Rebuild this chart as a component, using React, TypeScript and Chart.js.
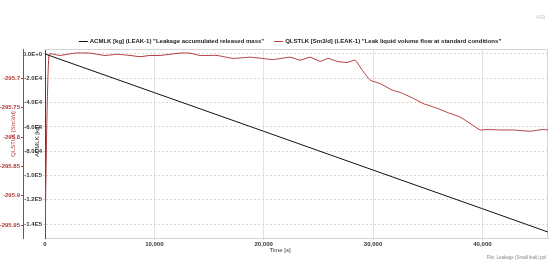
import React, { useEffect, useRef } from "react";
import { Chart, registerables } from "chart.js";

Chart.register(...registerables);

// Time [s] for accumulated mass (black)
const massTimes = [0, 10000, 20000, 30000, 40000, 46000];
const massValues = [0, -31800, -63600, -95500, -127300, -146500];

// Time [s] and values for liquid volume flow (red)
const flowTimes = [0, 366, 1372, 2745, 4117, 5490, 6588, 7777, 8692, 9607, 10522, 11437, 12352, 13267, 14182, 15738, 17202, 18757, 19855, 20862, 22417, 23332, 24247, 25162, 25894, 26718, 27633, 28365, 29005, 29737, 30652, 31750, 32482, 33672, 34587, 35868, 36783, 37972, 38887, 39802, 40443, 41632, 42822, 44377, 45567, 46024];
const flowValues = [-295.972, -295.659, -295.661, -295.657, -295.657, -295.661, -295.659, -295.661, -295.663, -295.661, -295.661, -295.659, -295.657, -295.657, -295.661, -295.661, -295.666, -295.664, -295.666, -295.668, -295.664, -295.669, -295.664, -295.671, -295.666, -295.671, -295.673, -295.669, -295.686, -295.703, -295.709, -295.72, -295.724, -295.734, -295.743, -295.751, -295.758, -295.766, -295.777, -295.788, -295.787, -295.788, -295.788, -295.79, -295.787, -295.788];

const xTicks = [0, 10000, 20000, 30000, 40000];
const massTicks = [0, -20000, -40000, -60000, -80000, -100000, -120000, -140000];
const massTickLabels = ["0.0E+0", "-2.0E4", "-4.0E4", "-6.0E4", "-8.0E4", "-1.0E5", "-1.2E5", "-1.4E5"];
const flowTicks = [-295.7, -295.75, -295.8, -295.85, -295.9, -295.95];
const flowTickLabels = ["-295.7", "-295.75", "-295.8", "-295.85", "-295.9", "-295.95"];

const legendText1 = "ACMLK [kg] (LEAK-1) \"Leakage accumulated released mass\"";
const legendText2 = "QLSTLK [Sm3/d] (LEAK-1) \"Leak liquid volume flow at standard conditions\"";
const flowTitle = "QLSTLK [Sm3/d]";
const massTitle = "ACMLK [kg]";
const xTitle = "Time [s]";
const fileText = "File: Leakage (Small leak).ppl";
const pageText = "4/19";

const RED = "#b23a3a";
const FONT = "'Liberation Sans', Arial, sans-serif";

export default function App() {
  const ref = useRef<HTMLCanvasElement | null>(null);

  useEffect(() => {
    if (!ref.current) return;
    const textPlugin = {
      id: "texts",
      beforeDatasetsDraw(chart: any) {
        const { ctx, chartArea } = chart;
        ctx.save();
        ctx.strokeStyle = "#d4d4d4";
        ctx.lineWidth = 1;
        ctx.beginPath();
        ctx.moveTo(chartArea.left, chartArea.top + 0.5);
        ctx.lineTo(chartArea.right - 0.5, chartArea.top + 0.5);
        ctx.lineTo(chartArea.right - 0.5, chartArea.bottom);
        ctx.stroke();
        ctx.restore();
      },
      afterDraw(chart: any) {
        const { ctx } = chart;
        ctx.save();
        // legend
        ctx.font = `bold 6px ${FONT}`;
        ctx.textBaseline = "middle";
        ctx.textAlign = "left";
        const gap = 10;
        const sw = 9;
        const w1 = ctx.measureText(legendText1).width;
        const w2 = ctx.measureText(legendText2).width;
        const total = sw + 2 + w1 + gap + sw + 2 + w2;
        let x = 290 - total / 2;
        const y = 41;
        ctx.strokeStyle = "#111";
        ctx.lineWidth = 1;
        ctx.beginPath(); ctx.moveTo(x, y + 0.5); ctx.lineTo(x + sw, y + 0.5); ctx.stroke();
        x += sw + 2;
        ctx.fillStyle = "#222";
        ctx.fillText(legendText1, x, y);
        x += w1 + gap;
        ctx.strokeStyle = RED;
        ctx.beginPath(); ctx.moveTo(x, y + 0.5); ctx.lineTo(x + sw, y + 0.5); ctx.stroke();
        x += sw + 2;
        ctx.fillStyle = "#222";
        ctx.fillText(legendText2, x, y);

        // x title
        ctx.font = `6px ${FONT}`;
        ctx.textAlign = "center";
        ctx.fillStyle = "#333";
        ctx.fillText(xTitle, 280, 250);

        // y titles
        ctx.save();
        ctx.translate(13, 134);
        ctx.rotate(-Math.PI / 2);
        ctx.fillStyle = RED;
        ctx.fillText(flowTitle, 0, 0);
        ctx.restore();
        ctx.save();
        ctx.translate(37, 141);
        ctx.rotate(-Math.PI / 2);
        ctx.fillStyle = "#222";
        ctx.fillText(massTitle, 0, 0);
        ctx.restore();

        // corner texts
        ctx.font = `4.5px ${FONT}`;
        ctx.fillStyle = "#888";
        ctx.textAlign = "right";
        ctx.fillText(fileText, 546, 258);
        ctx.fillStyle = "#bbb";
        ctx.fillText(pageText, 545, 18);
        ctx.restore();
      },
    };

    const chart = new Chart(ref.current, {
      type: "line",
      data: {
        datasets: [
          {
            label: "ACMLK",
            data: massTimes.map((t, i) => ({ x: t, y: massValues[i] })),
            borderColor: "#111",
            borderWidth: 1,
            pointRadius: 0,
            yAxisID: "y",
            tension: 0,
          },
          {
            label: "QLSTLK",
            data: flowTimes.map((t, i) => ({ x: t, y: flowValues[i] })),
            borderColor: RED,
            borderWidth: 1,
            pointRadius: 0,
            yAxisID: "y1",
            tension: 0.15,
          },
        ],
      },
      options: {
        animation: false,
        responsive: false,
        maintainAspectRatio: false,
        layout: { padding: { top: 49, right: 4, left: 0, bottom: 0 } },
        plugins: { legend: { display: false }, tooltip: { enabled: false } },
        scales: {
          x: {
            type: "linear",
            min: 0,
            max: 46000,
            afterBuildTicks: (s: any) => { s.ticks = xTicks.map((v) => ({ value: v })); },
            afterFit: (s: any) => { s.height = 29; },
            ticks: {
              font: { size: 6, family: FONT, weight: "bold" },
              color: "#333",
              padding: 1,
              maxRotation: 0,
              callback: (v: any) => Number(v).toLocaleString("en-US"),
            },
            grid: { color: "#e2e2e2", lineWidth: 1, tickLength: 2 },
            border: { color: "#d4d4d4" },
          },
          y: {
            type: "linear",
            position: "left",
            weight: 0,
            min: -151400,
            max: 4100,
            afterBuildTicks: (s: any) => { s.ticks = massTicks.map((v) => ({ value: v })); },
            afterFit: (s: any) => { s.width = 22; },
            ticks: {
              font: { size: 6, family: FONT, weight: "bold" },
              color: "#333",
              padding: 1,
              callback: (v: any) => {
                const i = massTicks.indexOf(Number(v));
                return i >= 0 ? massTickLabels[i] : "";
              },
            },
            grid: { color: "#d8d8d8", lineWidth: 1, tickLength: 2 },
            border: { color: "#444", dash: [2, 2] },
          },
          y1: {
            type: "linear",
            position: "left",
            weight: 10,
            min: -295.972,
            max: -295.65,
            afterBuildTicks: (s: any) => { s.ticks = flowTicks.map((v) => ({ value: v })); },
            afterFit: (s: any) => { s.width = 23; },
            ticks: {
              font: { size: 6, family: FONT, weight: "bold" },
              color: RED,
              padding: 1,
              callback: (v: any) => {
                const i = flowTicks.findIndex((f) => Math.abs(f - Number(v)) < 1e-6);
                return i >= 0 ? flowTickLabels[i] : "";
              },
            },
            grid: { drawOnChartArea: false, color: RED, tickLength: 2 },
            border: { color: RED },
          },
        },
      } as any,
      plugins: [textPlugin],
    });
    return () => chart.destroy();
  }, []);

  return (
    <div style={{ position: "absolute", left: 0, top: 0, width: 552, height: 267, background: "#fff" }}>
      <canvas ref={ref} width={552} height={267} style={{ width: 552, height: 267 }} />
    </div>
  );
}
